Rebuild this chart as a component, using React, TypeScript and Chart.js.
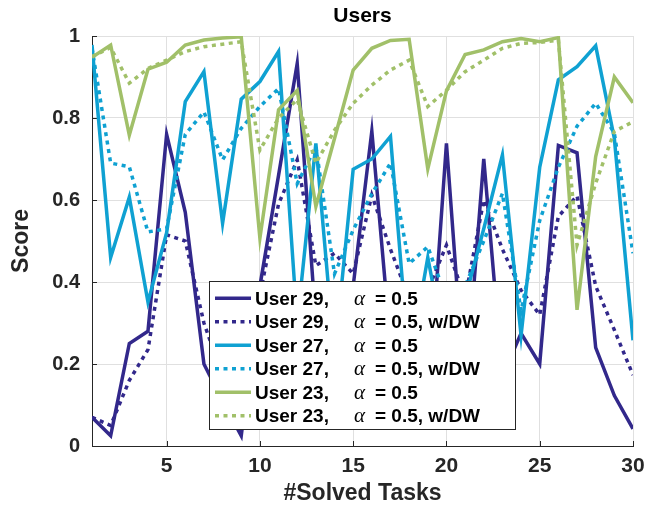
import React, { useEffect, useRef } from "react";
import { Chart, registerables } from "chart.js";

Chart.register(...registerables);

const tasks = [1, 2, 3, 4, 5, 6, 7, 8, 9, 10, 11, 12, 13, 14, 15, 16, 17, 18, 19, 20, 21, 22, 23, 24, 25, 26, 27, 28, 29, 30];

const user29 = [0.07, 0.025, 0.25, 0.28, 0.76, 0.57, 0.2, 0.11, 0.025, 0.39, 0.66, 0.933, 0.3, 0.1, 0.39, 0.768, 0.25, 0.15, 0.09, 0.738, 0.12, 0.7, 0.17, 0.275, 0.2, 0.733, 0.715, 0.24, 0.123, 0.042];
const user29DW = [0.07, 0.05, 0.16, 0.235, 0.515, 0.5, 0.3, 0.17, 0.22, 0.37, 0.59, 0.698, 0.44, 0.47, 0.42, 0.612, 0.48, 0.36, 0.38, 0.49, 0.36, 0.6, 0.48, 0.38, 0.32, 0.56, 0.61, 0.39, 0.283, 0.173];
const user27 = [0.978, 0.46, 0.607, 0.351, 0.52, 0.84, 0.913, 0.543, 0.846, 0.889, 0.962, 0.3, 0.738, 0.22, 0.675, 0.7, 0.755, 0.2, 0.46, 0.22, 0.36, 0.53, 0.71, 0.27, 0.68, 0.893, 0.925, 0.976, 0.75, 0.258];
const user27DW = [0.97, 0.69, 0.681, 0.522, 0.53, 0.76, 0.815, 0.698, 0.775, 0.828, 0.872, 0.64, 0.73, 0.42, 0.527, 0.615, 0.69, 0.445, 0.486, 0.36, 0.39, 0.5, 0.616, 0.33, 0.55, 0.68, 0.78, 0.836, 0.763, 0.47];
const user23 = [0.948, 0.978, 0.758, 0.919, 0.936, 0.978, 0.99, 0.995, 0.998, 0.507, 0.82, 0.867, 0.584, 0.75, 0.917, 0.97, 0.989, 0.992, 0.676, 0.866, 0.955, 0.966, 0.986, 0.994, 0.986, 0.996, 0.332, 0.706, 0.9, 0.837];
const user23DW = [0.95, 0.972, 0.885, 0.921, 0.941, 0.962, 0.974, 0.98, 0.986, 0.722, 0.8, 0.845, 0.69, 0.77, 0.836, 0.88, 0.917, 0.941, 0.828, 0.868, 0.913, 0.941, 0.97, 0.982, 0.984, 0.99, 0.49, 0.641, 0.767, 0.791];

const xTickValues = [5, 10, 15, 20, 25, 30];
const xTickLabels = ["5", "10", "15", "20", "25", "30"];
const yTickValues = [0, 0.2, 0.4, 0.6, 0.8, 1];
const yTickLabels = ["0", "0.2", "0.4", "0.6", "0.8", "1"];

const seriesNames = ["User 29,", "User 29,", "User 27,", "User 27,", "User 23,", "User 23,"];
const seriesSuffix = ["= 0.5", "= 0.5, w/DW", "= 0.5", "= 0.5, w/DW", "= 0.5", "= 0.5, w/DW"];
const seriesValues = [user29, user29DW, user27, user27DW, user23, user23DW];

const PURPLE = "#32288b";
const BLUE = "#0fa1d2";
const GREEN = "#a1c069";
const seriesColors = [PURPLE, PURPLE, BLUE, BLUE, GREEN, GREEN];
const seriesDotted = [false, true, false, true, false, true];

const FONT = "'Liberation Sans', Arial, Helvetica, sans-serif";
const AXIS = "#262626";
const DASH = [4, 4.5];

const decorPlugin = {
  id: "decor",
  beforeDatasetsDraw(chart: any) {
    const { ctx, chartArea: a, scales } = chart;
    ctx.save();
    ctx.strokeStyle = AXIS;
    ctx.lineWidth = 1;
    for (const v of xTickValues) {
      const px = Math.round(scales.x.getPixelForValue(v)) + 0.5;
      ctx.beginPath();
      ctx.moveTo(px, a.bottom);
      ctx.lineTo(px, a.bottom - 5);
      ctx.stroke();
    }
    for (const v of yTickValues) {
      const py = Math.round(scales.y.getPixelForValue(v)) + 0.5;
      ctx.beginPath();
      ctx.moveTo(a.left, py);
      ctx.lineTo(a.left + 5, py);
      ctx.stroke();
    }
    ctx.restore();
  },
  afterDraw(chart: any) {
    const { ctx, chartArea: a } = chart;
    ctx.save();
    // Title
    ctx.fillStyle = "#000";
    ctx.textAlign = "center";
    ctx.textBaseline = "middle";
    ctx.font = `bold 21px ${FONT}`;
    ctx.fillText("Users", (a.left + a.right) / 2, 16);
    // X title
    ctx.fillStyle = AXIS;
    ctx.font = `bold 23px ${FONT}`;
    ctx.fillText("#Solved Tasks", (a.left + a.right) / 2, 494);
    // Y title
    ctx.save();
    ctx.translate(22, (a.top + a.bottom) / 2);
    ctx.rotate(-Math.PI / 2);
    ctx.fillText("Score", 0, 0);
    ctx.restore();

    // Legend
    const lx = a.left + 117;
    const ly = a.top + 245;
    const lw = 306;
    const lh = 148;
    ctx.fillStyle = "#fff";
    ctx.fillRect(lx, ly, lw, lh);
    ctx.strokeStyle = AXIS;
    ctx.lineWidth = 1;
    ctx.strokeRect(Math.round(lx) + 0.5, Math.round(ly) + 0.5, lw, lh);
    for (let i = 0; i < seriesNames.length; i++) {
      const cy = ly + 17.3 + i * 23.5;
      ctx.save();
      ctx.strokeStyle = seriesColors[i];
      ctx.lineWidth = 3.5;
      ctx.lineCap = "butt";
      ctx.setLineDash(seriesDotted[i] ? DASH : []);
      ctx.beginPath();
      ctx.moveTo(lx + 6, cy);
      ctx.lineTo(lx + 42, cy);
      ctx.stroke();
      ctx.restore();
      ctx.fillStyle = "#000";
      ctx.textAlign = "left";
      ctx.textBaseline = "middle";
      ctx.font = `bold 19px ${FONT}`;
      ctx.fillText(seriesNames[i], lx + 46, cy + 1);
      ctx.font = `italic 21px 'Liberation Serif', 'DejaVu Serif', serif`;
      ctx.fillText("\u03b1", lx + 145, cy + 1);
      ctx.font = `bold 19px ${FONT}`;
      ctx.fillText(seriesSuffix[i], lx + 166, cy + 1);
    }
    ctx.restore();
  },
};

export default function App() {
  const canvasRef = useRef<HTMLCanvasElement | null>(null);

  useEffect(() => {
    const canvas = canvasRef.current;
    if (!canvas) return;
    const datasets = seriesValues.map((vals, i) => ({
      label: seriesNames[i] + " \u03b1 " + seriesSuffix[i],
      data: tasks.map((t, j) => ({ x: t, y: vals[j] })),
      borderColor: seriesColors[i],
      backgroundColor: seriesColors[i],
      borderWidth: 3.5,
      borderDash: seriesDotted[i] ? DASH : [],
      borderCapStyle: "butt" as const,
      borderJoinStyle: "miter" as const,
      pointRadius: 0,
      tension: 0,
      fill: false,
      order: 6 - i,
    }));

    const chart = new Chart(canvas, {
      type: "line",
      data: { datasets },
      options: {
        animation: false,
        responsive: false,
        devicePixelRatio: 1,
        layout: { padding: { top: 36, right: 20, left: 0, bottom: 0 } },
        plugins: {
          legend: { display: false },
          tooltip: { enabled: false },
          title: { display: false },
        },
        scales: {
          x: {
            type: "linear",
            min: 1,
            max: 30,
            afterBuildTicks: (s: any) => {
              s.ticks = xTickValues.map((v) => ({ value: v }));
            },
            afterFit: (s: any) => {
              s.height = 69;
              s.paddingLeft = 0;
              s.paddingRight = 0;
              s.paddingTop = 0;
              s.paddingBottom = 0;
            },
            grid: { color: "#e0e0e0", lineWidth: 1, drawTicks: false },
            border: { color: AXIS, width: 1 },
            ticks: {
              autoSkip: false,
              maxRotation: 0,
              padding: 8,
              color: AXIS,
              font: { family: FONT, size: 21, weight: "bold" },
              callback: (_v: any, i: number) => xTickLabels[i],
            },
          },
          y: {
            type: "linear",
            min: 0,
            max: 1,
            afterBuildTicks: (s: any) => {
              s.ticks = yTickValues.map((v) => ({ value: v }));
            },
            afterFit: (s: any) => {
              s.width = 92;
              s.paddingLeft = 0;
              s.paddingRight = 0;
              s.paddingTop = 0;
              s.paddingBottom = 0;
            },
            grid: { color: "#e0e0e0", lineWidth: 1, drawTicks: false },
            border: { color: AXIS, width: 1 },
            ticks: {
              autoSkip: false,
              padding: 12,
              color: AXIS,
              font: { family: FONT, size: 20, weight: "bold" },
              callback: (_v: any, i: number) => yTickLabels[i],
            },
          },
        },
      },
      plugins: [decorPlugin],
    });
    return () => chart.destroy();
  }, []);

  return (
    <div style={{ position: "fixed", left: 0, top: 0, width: 653, height: 515, background: "#fff" }}>
      <canvas ref={canvasRef} width={653} height={515} style={{ display: "block" }} />
    </div>
  );
}
